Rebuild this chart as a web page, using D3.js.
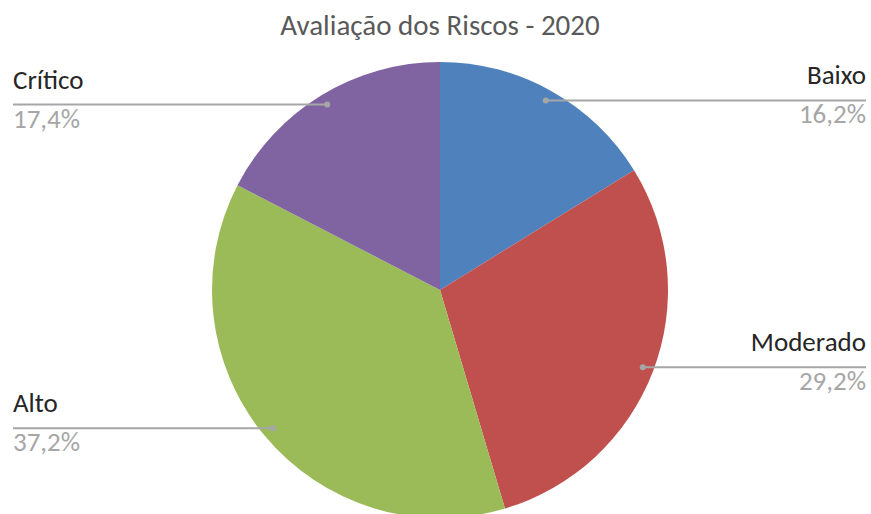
<!DOCTYPE html>
<html>
<head>
<meta charset="utf-8">
<script src="https://d3js.org/d3.v7.min.js"></script>
<style>
  body { margin: 0; background: #fff; }
  text { font-family: Carlito, Calibri, Lato, sans-serif; }
</style>
</head>
<body>
<svg width="871" height="514"></svg>
<script>
var categories = ["Baixo", "Moderado", "Alto", "Crítico"];
var values = [16.2, 29.2, 37.2, 17.4];
var colors = ["#4F81BD", "#C0504D", "#9BBB59", "#8064A2"];

var width = 871, height = 514;
var cx = 440, cy = 290, radius = 228;

var svg = d3.select("svg");

svg.append("text")
  .attr("x", cx).attr("y", 35)
  .attr("text-anchor", "middle")
  .attr("fill", "#595959")
  .style("font-size", "29px")
  .text("Avaliação dos Riscos - 2020");

var data = categories.map(function (c, i) { return { name: c, value: values[i], color: colors[i] }; });

var pie = d3.pie().sort(null).value(function (d) { return d.value; });
var arc = d3.arc().innerRadius(0).outerRadius(radius);
var dotArc = d3.arc().innerRadius(radius * 0.952).outerRadius(radius * 0.952);

var g = svg.append("g").attr("transform", "translate(" + cx + "," + cy + ")");

var arcs = pie(data);

g.selectAll("path.slice")
  .data(arcs)
  .enter().append("path")
  .attr("class", "slice")
  .attr("d", arc)
  .attr("fill", function (d) { return d.data.color; });

// label side follows the centroid of the slice
var fmt = function (v) { return v.toFixed(1).replace(".", ",") + "%"; };

arcs.forEach(function (d) {
  var p = dotArc.centroid(d);
  var px = cx + p[0], py = cy + p[1];
  var right = p[0] > 0;
  var endX = right ? 866 : 13;

  svg.append("line")
    .attr("x1", px).attr("y1", py)
    .attr("x2", endX).attr("y2", py)
    .attr("stroke", "#A6A6A6")
    .attr("stroke-width", 2);

  svg.append("circle")
    .attr("cx", px).attr("cy", py).attr("r", 3)
    .attr("fill", "#A6A6A6");

  svg.append("text")
    .attr("x", endX).attr("y", py - 16)
    .attr("text-anchor", right ? "end" : "start")
    .attr("fill", "#262626")
    .style("font-size", "27px")
    .text(d.data.name);

  svg.append("text")
    .attr("x", endX).attr("y", py + 23)
    .attr("text-anchor", right ? "end" : "start")
    .attr("fill", "#A6A6A6")
    .style("font-size", "27px")
    .text(fmt(d.data.value));
});
</script>
</body>
</html>
